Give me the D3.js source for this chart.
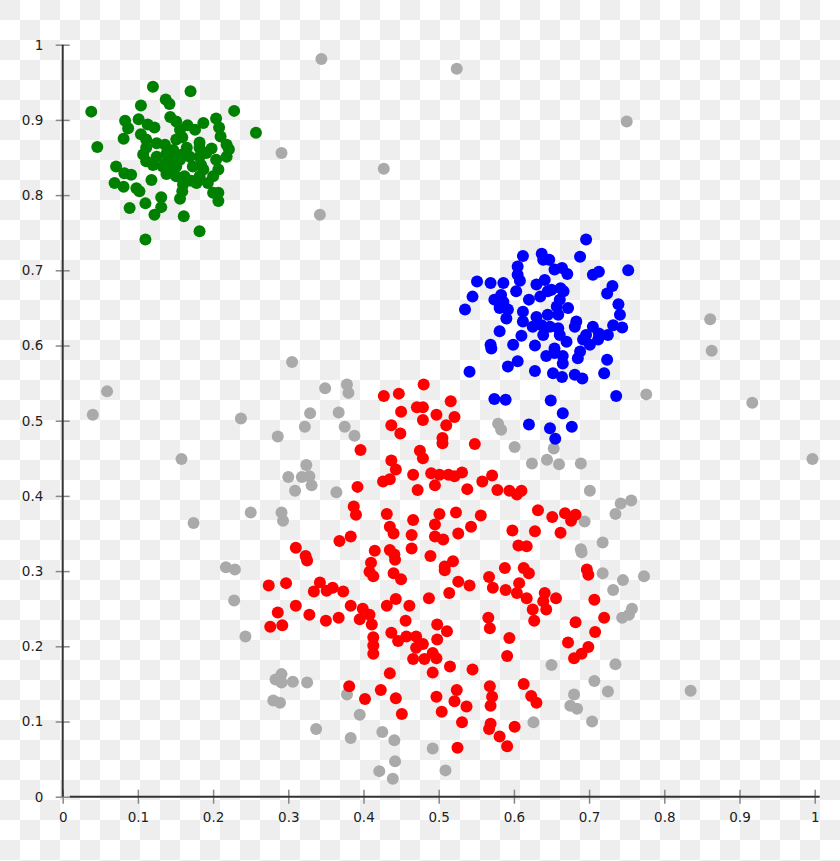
<!DOCTYPE html>
<html><head><meta charset="utf-8">
<script src="https://cdn.jsdelivr.net/npm/d3@7"></script>
<style>body{margin:0;background:#fff}svg{display:block}</style>
</head><body>
<script>
const tickValues = [0,0.1,0.2,0.3,0.4,0.5,0.6,0.7,0.8,0.9,1];
const tickLabels = ["0","0.1","0.2","0.3","0.4","0.5","0.6","0.7","0.8","0.9","1"];

const grayPoints = [[0.344,0.981],[0.524,0.968],[0.750,0.898],[0.291,0.856],[0.427,0.835],[0.342,0.774],[0.305,0.578],[0.059,0.539],[0.040,0.508],[0.237,0.503],[0.158,0.449],[0.174,0.364],[0.250,0.378],[0.217,0.305],[0.229,0.302],[0.228,0.261],[0.243,0.213],[0.861,0.635],[0.863,0.593],[0.776,0.535],[0.917,0.524],[0.997,0.449],[0.756,0.394],[0.742,0.390],[0.735,0.376],[0.718,0.338],[0.718,0.297],[0.745,0.288],[0.773,0.293],[0.732,0.275],[0.757,0.250],[0.753,0.242],[0.744,0.238],[0.579,0.496],[0.583,0.488],[0.601,0.465],[0.653,0.463],[0.624,0.443],[0.644,0.448],[0.660,0.442],[0.689,0.443],[0.701,0.407],[0.694,0.366],[0.689,0.329],[0.349,0.543],[0.378,0.548],[0.380,0.537],[0.329,0.510],[0.367,0.511],[0.322,0.492],[0.375,0.492],[0.388,0.480],[0.286,0.479],[0.324,0.441],[0.300,0.425],[0.318,0.425],[0.328,0.426],[0.331,0.414],[0.309,0.407],[0.364,0.405],[0.291,0.378],[0.293,0.367],[0.690,0.325],[0.650,0.175],[0.735,0.176],[0.707,0.154],[0.725,0.140],[0.680,0.136],[0.675,0.121],[0.684,0.117],[0.626,0.099],[0.704,0.100],[0.291,0.163],[0.283,0.156],[0.291,0.152],[0.306,0.153],[0.325,0.152],[0.280,0.128],[0.289,0.125],[0.378,0.136],[0.395,0.109],[0.337,0.090],[0.383,0.078],[0.425,0.086],[0.441,0.075],[0.492,0.064],[0.442,0.047],[0.421,0.034],[0.439,0.024],[0.509,0.035],[0.835,0.141]];

const greenPoints = [[0.120,0.944],[0.170,0.938],[0.038,0.911],[0.228,0.912],[0.104,0.919],[0.137,0.927],[0.142,0.921],[0.257,0.883],[0.046,0.864],[0.083,0.899],[0.101,0.901],[0.113,0.894],[0.122,0.890],[0.087,0.889],[0.081,0.875],[0.104,0.881],[0.143,0.904],[0.151,0.898],[0.166,0.893],[0.187,0.896],[0.176,0.887],[0.204,0.902],[0.208,0.890],[0.210,0.878],[0.218,0.867],[0.221,0.861],[0.218,0.851],[0.156,0.887],[0.159,0.877],[0.151,0.874],[0.182,0.870],[0.198,0.862],[0.111,0.874],[0.125,0.869],[0.136,0.867],[0.138,0.855],[0.111,0.863],[0.107,0.854],[0.165,0.863],[0.169,0.851],[0.159,0.854],[0.182,0.851],[0.191,0.856],[0.204,0.847],[0.071,0.838],[0.082,0.829],[0.091,0.827],[0.111,0.845],[0.120,0.840],[0.133,0.838],[0.138,0.828],[0.151,0.838],[0.156,0.847],[0.151,0.825],[0.162,0.825],[0.173,0.838],[0.184,0.840],[0.207,0.834],[0.200,0.825],[0.182,0.825],[0.171,0.819],[0.178,0.816],[0.193,0.816],[0.118,0.820],[0.069,0.816],[0.081,0.811],[0.098,0.809],[0.102,0.805],[0.160,0.814],[0.159,0.805],[0.200,0.803],[0.207,0.803],[0.207,0.792],[0.156,0.795],[0.131,0.797],[0.131,0.784],[0.110,0.789],[0.089,0.783],[0.122,0.774],[0.161,0.772],[0.182,0.752],[0.110,0.741],[0.147,0.834],[0.138,0.843],[0.187,0.834],[0.125,0.851],[0.145,0.847],[0.147,0.860],[0.182,0.863]];

const bluePoints = [[0.696,0.741],[0.612,0.719],[0.637,0.722],[0.639,0.714],[0.647,0.714],[0.688,0.718],[0.605,0.705],[0.654,0.701],[0.664,0.703],[0.671,0.695],[0.705,0.694],[0.713,0.698],[0.752,0.700],[0.605,0.694],[0.551,0.685],[0.569,0.683],[0.586,0.683],[0.608,0.686],[0.630,0.681],[0.641,0.687],[0.650,0.674],[0.662,0.676],[0.666,0.672],[0.731,0.679],[0.724,0.669],[0.545,0.665],[0.583,0.667],[0.603,0.672],[0.635,0.665],[0.645,0.672],[0.574,0.661],[0.586,0.658],[0.620,0.661],[0.661,0.661],[0.535,0.648],[0.581,0.650],[0.592,0.648],[0.612,0.645],[0.657,0.652],[0.672,0.650],[0.739,0.655],[0.590,0.636],[0.612,0.632],[0.630,0.638],[0.645,0.641],[0.659,0.641],[0.741,0.641],[0.625,0.625],[0.637,0.627],[0.648,0.625],[0.659,0.623],[0.683,0.632],[0.681,0.625],[0.705,0.625],[0.732,0.627],[0.744,0.624],[0.581,0.619],[0.610,0.613],[0.639,0.614],[0.661,0.614],[0.696,0.614],[0.713,0.616],[0.725,0.614],[0.569,0.601],[0.599,0.601],[0.628,0.600],[0.670,0.605],[0.692,0.608],[0.701,0.601],[0.712,0.608],[0.570,0.596],[0.654,0.596],[0.688,0.592],[0.643,0.586],[0.654,0.590],[0.665,0.586],[0.685,0.583],[0.605,0.579],[0.592,0.572],[0.665,0.576],[0.628,0.566],[0.724,0.581],[0.541,0.565],[0.652,0.563],[0.664,0.558],[0.681,0.561],[0.691,0.556],[0.720,0.563],[0.736,0.533],[0.574,0.529],[0.589,0.528],[0.649,0.527],[0.665,0.510],[0.620,0.495],[0.648,0.490],[0.677,0.492],[0.655,0.476]];

const redPoints = [[0.480,0.548],[0.427,0.533],[0.447,0.536],[0.516,0.526],[0.450,0.512],[0.471,0.518],[0.479,0.518],[0.497,0.508],[0.521,0.505],[0.479,0.501],[0.437,0.494],[0.510,0.494],[0.449,0.483],[0.505,0.477],[0.505,0.470],[0.396,0.461],[0.475,0.460],[0.479,0.450],[0.437,0.447],[0.443,0.435],[0.466,0.428],[0.426,0.419],[0.435,0.422],[0.490,0.430],[0.501,0.428],[0.513,0.428],[0.521,0.426],[0.495,0.414],[0.472,0.408],[0.392,0.412],[0.387,0.386],[0.390,0.375],[0.431,0.376],[0.466,0.368],[0.501,0.376],[0.523,0.378],[0.435,0.359],[0.440,0.350],[0.464,0.348],[0.495,0.362],[0.495,0.346],[0.506,0.342],[0.526,0.350],[0.368,0.340],[0.383,0.346],[0.310,0.331],[0.548,0.469],[0.531,0.431],[0.558,0.419],[0.571,0.427],[0.538,0.409],[0.578,0.408],[0.594,0.407],[0.604,0.402],[0.610,0.407],[0.556,0.374],[0.543,0.359],[0.632,0.381],[0.651,0.372],[0.668,0.377],[0.676,0.367],[0.682,0.375],[0.598,0.354],[0.628,0.353],[0.662,0.351],[0.606,0.334],[0.617,0.333],[0.323,0.320],[0.325,0.314],[0.415,0.327],[0.435,0.328],[0.441,0.322],[0.442,0.315],[0.464,0.330],[0.489,0.320],[0.508,0.306],[0.410,0.311],[0.408,0.299],[0.413,0.293],[0.440,0.297],[0.450,0.289],[0.274,0.281],[0.297,0.284],[0.342,0.285],[0.334,0.273],[0.351,0.274],[0.359,0.278],[0.373,0.273],[0.286,0.245],[0.310,0.254],[0.328,0.242],[0.350,0.234],[0.367,0.238],[0.383,0.254],[0.399,0.250],[0.408,0.242],[0.395,0.236],[0.411,0.229],[0.276,0.226],[0.292,0.228],[0.431,0.254],[0.443,0.263],[0.461,0.254],[0.487,0.264],[0.456,0.234],[0.437,0.218],[0.446,0.207],[0.457,0.213],[0.470,0.213],[0.479,0.203],[0.470,0.198],[0.466,0.183],[0.481,0.183],[0.498,0.229],[0.498,0.209],[0.492,0.191],[0.497,0.184],[0.514,0.271],[0.413,0.212],[0.413,0.201],[0.413,0.190],[0.435,0.164],[0.492,0.165],[0.381,0.147],[0.423,0.142],[0.402,0.130],[0.443,0.131],[0.497,0.133],[0.515,0.173],[0.519,0.313],[0.508,0.301],[0.526,0.286],[0.541,0.281],[0.567,0.292],[0.588,0.304],[0.572,0.278],[0.589,0.275],[0.613,0.304],[0.620,0.297],[0.607,0.284],[0.604,0.271],[0.617,0.264],[0.641,0.271],[0.656,0.264],[0.639,0.260],[0.625,0.249],[0.643,0.249],[0.627,0.234],[0.697,0.302],[0.699,0.295],[0.707,0.262],[0.720,0.238],[0.682,0.232],[0.708,0.219],[0.672,0.205],[0.699,0.199],[0.690,0.190],[0.680,0.184],[0.566,0.238],[0.568,0.224],[0.511,0.220],[0.594,0.211],[0.591,0.187],[0.545,0.169],[0.524,0.142],[0.568,0.147],[0.613,0.150],[0.623,0.134],[0.451,0.110],[0.504,0.113],[0.521,0.127],[0.537,0.120],[0.531,0.099],[0.525,0.065],[0.571,0.133],[0.569,0.121],[0.569,0.097],[0.567,0.090],[0.581,0.080],[0.591,0.067],[0.601,0.093],[0.630,0.125]];

const W = 840, H = 861;
const svg = d3.select("body").append("svg").attr("width", W).attr("height", H);

// checkerboard background (as in the reference image)
const pat = svg.append("defs").append("pattern").attr("id","checker")
  .attr("width",40).attr("height",40).attr("patternUnits","userSpaceOnUse");
pat.append("rect").attr("width",40).attr("height",40).attr("fill","#fff");
pat.append("rect").attr("width",20).attr("height",20).attr("fill","#eee");
pat.append("rect").attr("x",20).attr("y",20).attr("width",20).attr("height",20).attr("fill","#eee");
svg.append("rect").attr("width",W).attr("height",H).attr("fill","url(#checker)");

const x = d3.scaleLinear().domain([0,1]).range([62.7, 814.7]);
const y = d3.scaleLinear().domain([0,1]).range([796.7, 44.7]);

const font = "'DejaVu Sans', sans-serif";

// y axis
const gy = svg.append("g").attr("transform", `translate(${x(0)},0)`)
  .call(d3.axisLeft(y).tickValues(tickValues).tickFormat((d,i)=>tickLabels[i]).tickSize(7).tickPadding(12.4));
gy.select(".domain").remove();
gy.selectAll(".tick line").attr("x1",7).attr("stroke","#888").attr("stroke-width",1.5);
gy.selectAll(".tick text").attr("font-family",font).attr("font-size",13.5).attr("fill","#222");

// x axis
const gx = svg.append("g").attr("transform", `translate(0,${y(0)})`)
  .call(d3.axisBottom(x).tickValues(tickValues).tickFormat((d,i)=>tickLabels[i]).tickSize(7).tickPadding(8.4));
gx.select(".domain").remove();
gx.selectAll(".tick line").attr("y1",-7).attr("stroke","#888").attr("stroke-width",1.5);
gx.selectAll(".tick text").attr("font-family",font).attr("font-size",13.5).attr("fill","#222");

// axis lines
svg.append("line").attr("x1",x(0)).attr("x2",x(0)).attr("y1",y(1)).attr("y2",y(0))
  .attr("stroke","#333").attr("stroke-width",2);
svg.append("line").attr("x1",x(0)+7).attr("x2",x(1)+5).attr("y1",y(0)).attr("y2",y(0))
  .attr("stroke","#333").attr("stroke-width",2);

const series = [
  {pts: grayPoints, color: "#aaaaaa"},
  {pts: greenPoints, color: "#008000"},
  {pts: bluePoints, color: "#0000ff"},
  {pts: redPoints, color: "#ff0000"}
];
series.forEach(s => {
  svg.append("g").selectAll("circle").data(s.pts).join("circle")
    .attr("cx", d => x(d[0])).attr("cy", d => y(d[1])).attr("r", 6)
    .attr("fill", s.color);
});
</script>
</body></html>
